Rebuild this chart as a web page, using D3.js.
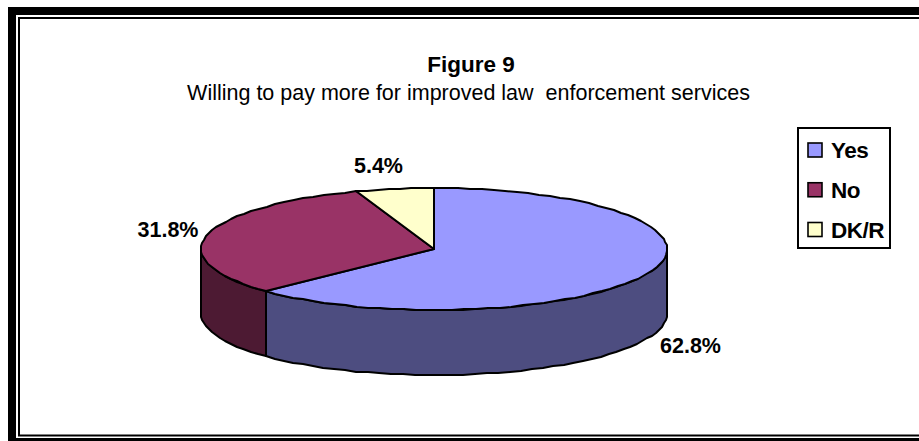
<!DOCTYPE html>
<html>
<head>
<meta charset="utf-8">
<script src="https://cdn.jsdelivr.net/npm/d3@7"></script>
<style>
  html, body { margin: 0; padding: 0; background: #fff; }
  svg { display: block; font-family: "Liberation Sans", Arial, sans-serif; }
</style>
</head>
<body>
<svg id="chart" width="919" height="441"></svg>
<script>
// Survey responses, in percent
const categories = ["Yes", "No", "DK/R"];
const shares = [62.8, 31.8, 5.4];
const shareLabels = ["62.8%", "31.8%", "5.4%"];
const topColors = ["#9999ff", "#993366", "#ffffcc"];
const sideColors = ["#4d4d80", "#4d1a33", "#808066"];
const titleText = "Figure 9";
const subtitleText = "Willing to pay more for improved law  enforcement services";

const svg = d3.select("#chart");

// Frame: heavy outer rule with a fine inner rule, open on the right
const frame = svg.append("g").attr("fill", "#000");
frame.append("rect").attr("x", 8).attr("y", 7).attr("width", 911).attr("height", 8);
frame.append("rect").attr("x", 8).attr("y", 7).attr("width", 8).attr("height", 434);
frame.append("rect").attr("x", 8).attr("y", 438).attr("width", 911).attr("height", 3);
frame.append("rect").attr("x", 18).attr("y", 17).attr("width", 901).attr("height", 2);
frame.append("rect").attr("x", 18).attr("y", 17).attr("width", 2).attr("height", 419);
frame.append("rect").attr("x", 18).attr("y", 434.5).attr("width", 901).attr("height", 2);

// Titles
svg.append("text").attr("x", 471).attr("y", 72).attr("text-anchor", "middle")
  .attr("font-size", 22.5).attr("font-weight", "bold").text(titleText);
svg.append("text").attr("x", 468.5).attr("y", 100).attr("text-anchor", "middle")
  .attr("xml:space", "preserve").style("white-space", "pre")
  .attr("font-size", 21.5).text(subtitleText);

// Tilted pie: unit-circle coordinates mapped onto an ellipse
const px = d3.scaleLinear().domain([-1, 1]).range([201, 667]);
const py = d3.scaleLinear().domain([-1, 1]).range([188, 310]);
const depth = 65;

const pie = d3.pie().sort(null).value(d => d);
const arcs = pie(shares);

const STEP = Math.PI / 60;
const anglesBetween = (a0, a1) => {
  const n = Math.max(1, Math.ceil((a1 - a0) / STEP));
  return d3.range(n + 1).map(i => a0 + (a1 - a0) * i / n);
};
const rimPoint = (a, dy = 0) => [Math.round(px(Math.sin(a))), Math.round(py(-Math.cos(a))) + dy];
const line = d3.line();
const centre = [px(0), py(0)];

// Side walls, only where the rim faces the viewer
const frontStart = Math.PI / 2, frontEnd = 3 * Math.PI / 2;
const pieGroup = svg.append("g").attr("stroke", "#000").attr("stroke-width", 2).attr("stroke-linejoin", "round");
arcs.forEach((d, i) => {
  const a0 = Math.max(d.startAngle, frontStart), a1 = Math.min(d.endAngle, frontEnd);
  if (a1 <= a0) return;
  const angles = anglesBetween(a0, a1);
  const pts = angles.map(a => rimPoint(a)).concat(angles.slice().reverse().map(a => rimPoint(a, depth)));
  pieGroup.append("path").attr("d", line(pts) + "Z").attr("fill", sideColors[i]);
});

// Top faces
arcs.forEach((d, i) => {
  const pts = [centre].concat(anglesBetween(d.startAngle, d.endAngle).map(a => rimPoint(a)));
  pieGroup.append("path").attr("d", line(pts) + "Z").attr("fill", topColors[i]);
});

// Value labels
const labelX = [690.5, 168, 378.5];
const labelY = [353, 237, 173];
svg.append("g").selectAll("text").data(shareLabels).join("text")
  .attr("x", (d, i) => labelX[i]).attr("y", (d, i) => labelY[i])
  .attr("text-anchor", "middle").attr("font-size", 21.5).attr("font-weight", "bold")
  .text(d => d);

// Legend
const legend = svg.append("g");
legend.append("rect").attr("x", 798).attr("y", 128).attr("width", 92).attr("height", 120)
  .attr("fill", "#fff").attr("stroke", "#000").attr("stroke-width", 2);
const legendY = d3.scalePoint().domain(categories).range([150, 229.5]);
const entries = legend.selectAll("g").data(categories).join("g")
  .attr("transform", d => `translate(808,${legendY(d)})`);
entries.append("rect").attr("x", 0).attr("y", -7).attr("width", 14).attr("height", 14)
  .attr("fill", (d, i) => topColors[i]).attr("stroke", "#000").attr("stroke-width", 1.6);
entries.append("text").attr("x", 23).attr("y", 8).attr("font-size", 22.5).attr("font-weight", "bold")
  .attr("letter-spacing", -0.5).text(d => d);
</script>
</body>
</html>
